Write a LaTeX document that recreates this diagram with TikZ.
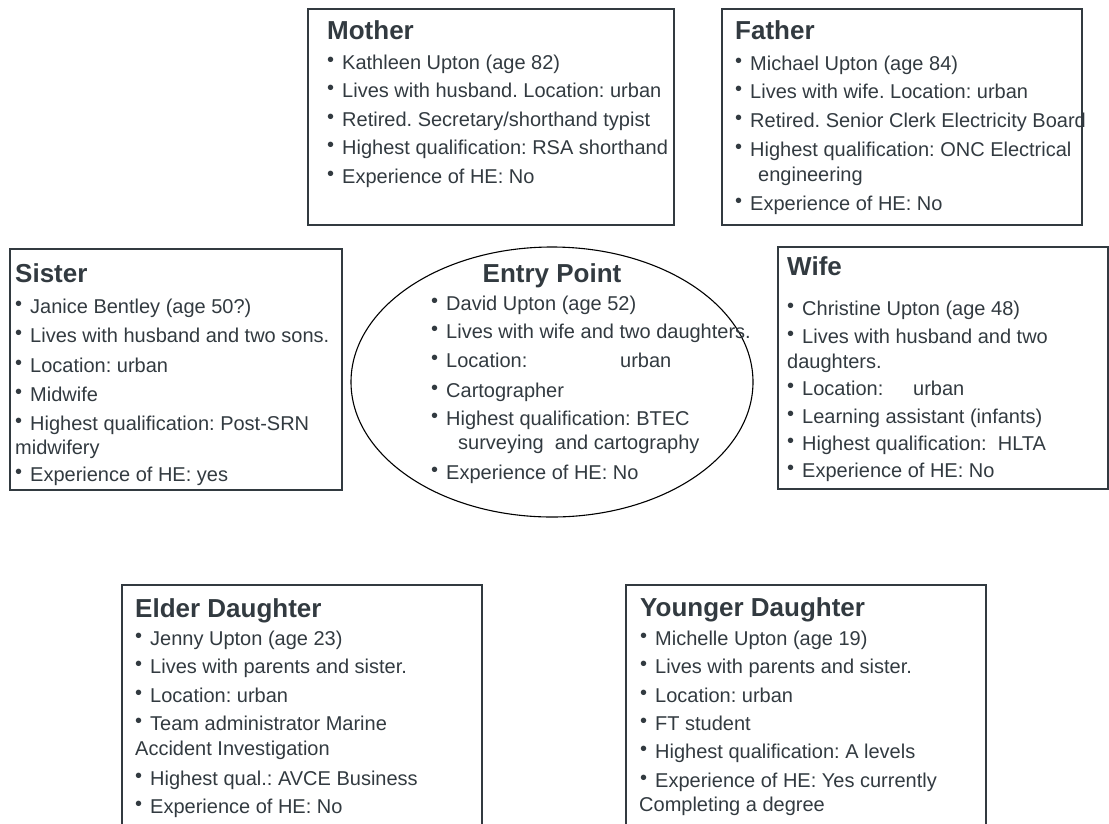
\documentclass[tikz,border=0pt]{standalone}
\usepackage{fontspec}
\setmainfont{Liberation Sans}
\usetikzlibrary{shapes.geometric}
\definecolor{ink}{RGB}{50,58,64}
\frenchspacing
\newcommand\bul{\makebox[15pt][l]{\fontsize{20}{20}\selectfont\raisebox{2.5pt}{•}}}
\tikzset{
 box/.style={draw=ink, line width=1.5pt, anchor=north west, inner sep=0pt, outer sep=0pt},
 ttl/.style={anchor=base west, inner sep=0pt, text=ink, font=\fontsize{26}{26}\selectfont\bfseries},
 txt/.style={anchor=base west, inner sep=0pt, text=ink, font=\fontsize{20}{20}\selectfont\frenchspacing},
 oval/.style={ellipse, draw=black, line width=1.1pt, inner sep=0pt},
}
\begin{document}
\begin{tikzpicture}[x=1pt,y=-1pt]
\useasboundingbox (0,0) rectangle (1109,823);
\clip (0,0) rectangle (1109,823);
% Mother
\node[box, minimum width=366pt, minimum height=216pt] (mother) at (308,9) {};
\node[ttl] (mt) at (327,39) {Mother};
\node[txt] (m1) at (327,69) {\bul Kathleen Upton (age 82)};
\node[txt] (m2) at (327,97) {\bul Lives with husband. Location: urban};
\node[txt] (m3) at (327,126) {\bul Retired. Secretary/shorthand typist};
\node[txt] (m4) at (327,154) {\bul Highest qualification: RSA shorthand};
\node[txt] (m5) at (327,183) {\bul Experience of HE: No};
% Father
\node[box, minimum width=360pt, minimum height=216pt] (father) at (722,9) {};
\node[ttl] (ft) at (735,39) {Father};
\node[txt] (f1) at (735,70) {\bul Michael Upton (age 84)};
\node[txt] (f2) at (735,98) {\bul Lives with wife. Location: urban};
\node[txt] (f3) at (735,127) {\bul Retired. Senior Clerk Electricity Board};
\node[txt] (f4) at (735,156) {\bul Highest qualification: ONC Electrical};
\node[txt] (f4b) at (758,181) {engineering};
\node[txt] (f5) at (735,210) {\bul Experience of HE: No};
% Sister
\node[box, minimum width=332pt, minimum height=241pt] (sister) at (10,249) {};
\node[ttl] (st) at (15,282) {Sister};
\node[txt] (s1) at (15,313) {\bul Janice Bentley (age 50?)};
\node[txt] (s2) at (15,342) {\bul Lives with husband and two sons.};
\node[txt] (s3) at (15,372) {\bul Location: urban};
\node[txt] (s4) at (15,401) {\bul Midwife};
\node[txt] (s5) at (15,430) {\bul Highest qualification: Post-SRN};
\node[txt] (s5b) at (15,454) {midwifery};
\node[txt] (s6) at (15,481) {\bul Experience of HE: yes};
% Entry point
\node[oval, minimum width=402pt, minimum height=270pt] (entry) at (552,382) {};
\node[ttl, anchor=base] (et) at (552,282) {Entry Point};
\node[txt] (e1) at (431,310) {\bul David Upton (age 52)};
\node[txt] (e2) at (431,338) {\bul Lives with wife and two daughters.};
\node[txt] (e3) at (431,367) {\bul Location:};
\node[txt] (e3b) at (620,367) {urban};
\node[txt] (e4) at (431,397) {\bul Cartographer};
\node[txt] (e5) at (431,425) {\bul Highest qualification: BTEC};
\node[txt] (e5b) at (458,449) {surveying\ \ and cartography};
\node[txt] (e6) at (431,479) {\bul Experience of HE: No};
% Wife
\node[box, minimum width=330pt, minimum height=242pt] (wife) at (778,247) {};
\node[ttl] (wt) at (787,275) {Wife};
\node[txt] (w1) at (787,315) {\bul Christine Upton (age 48)};
\node[txt] (w2) at (787,343) {\bul Lives with husband and two};
\node[txt] (w2b) at (787,368) {daughters.};
\node[txt] (w3) at (787,395) {\bul Location:};
\node[txt] (w3b) at (913,395) {urban};
\node[txt] (w4) at (787,423) {\bul Learning assistant (infants)};
\node[txt] (w5) at (787,450) {\bul Highest qualification:\ \ HLTA};
\node[txt] (w6) at (787,477) {\bul Experience of HE: No};
% Elder daughter
\node[box, minimum width=360pt, minimum height=280pt] (elder) at (122,585) {};
\node[ttl] (edt) at (135,617) {Elder Daughter};
\node[txt] (d1) at (135,645) {\bul Jenny Upton (age 23)};
\node[txt] (d2) at (135,673) {\bul Lives with parents and sister.};
\node[txt] (d3) at (135,702) {\bul Location: urban};
\node[txt] (d4) at (135,730) {\bul Team administrator Marine};
\node[txt] (d4b) at (135,755) {Accident Investigation};
\node[txt] (d5) at (135,785) {\bul Highest qual.: AVCE Business};
\node[txt] (d6) at (135,813) {\bul Experience of HE: No};
% Younger daughter
\node[box, minimum width=360pt, minimum height=280pt] (younger) at (626,585) {};
\node[ttl] (ydt) at (640,616) {Younger Daughter};
\node[txt] (y1) at (640,645) {\bul Michelle Upton (age 19)};
\node[txt] (y2) at (640,673) {\bul Lives with parents and sister.};
\node[txt] (y3) at (640,702) {\bul Location: urban};
\node[txt] (y4) at (640,730) {\bul FT student};
\node[txt] (y5) at (640,758) {\bul Highest qualification: A levels};
\node[txt] (y6) at (640,787) {\bul Experience of HE: Yes currently};
\node[txt] (y6b) at (639,811) {Completing a degree};
\end{tikzpicture}
\end{document}
